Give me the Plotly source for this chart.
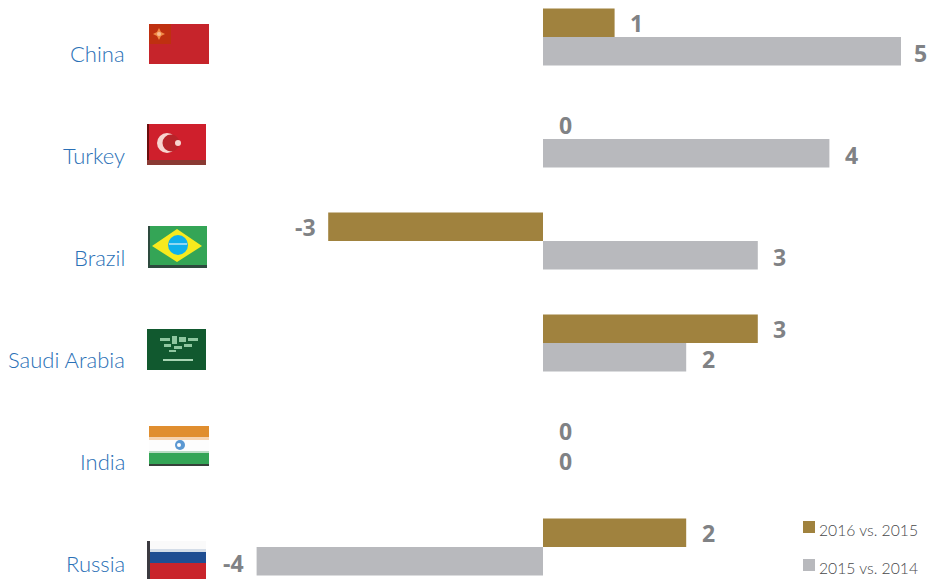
import plotly.graph_objects as go

# Percentage-point changes by country
countries = ["China", "Turkey", "Brazil", "Saudi Arabia", "India", "Russia"]
change_2016 = [1, 0, -3, 3, 0, 2]
change_2015 = [5, 4, 3, 2, 0, -4]
series_names = ["2016 vs. 2015", "2015 vs. 2014"]

GOLD = "#a0823e"
GREY = "#b8b9bd"
BLUE = "#2a70b6"
LABEL = "#808285"
LEGEND = "#47484a"
W, H = 928, 579
UNIT = 71.6
ZERO = 543
ROW = 102
FIRST = 37

fig = go.Figure()
for name, vals, col in zip(series_names, [change_2016, change_2015], [GOLD, GREY]):
    fig.add_bar(y=countries, x=vals, name=name, orientation="h",
                marker=dict(color=col, line=dict(width=0)), showlegend=False)


def px(x):
    return x / W


def py(y):
    return 1 - y / H


shapes, annotations = [], []


def rect(x0, y0, x1, y1, color):
    shapes.append(dict(type="rect", xref="paper", yref="paper", x0=px(x0), x1=px(x1),
                       y0=py(y0), y1=py(y1), fillcolor=color, line=dict(width=0), layer="above"))


def circle(cx, cy, r, color):
    rect_shape = dict(type="circle", xref="paper", yref="paper", x0=px(cx - r), x1=px(cx + r),
                      y0=py(cy - r), y1=py(cy + r), fillcolor=color, line=dict(width=0), layer="above")
    shapes.append(rect_shape)


def poly(points, color):
    d = "M" + "L".join(f"{px(x):.5f},{py(y):.5f}" for x, y in points) + "Z"
    shapes.append(dict(type="path", xref="paper", yref="paper", path=d,
                       fillcolor=color, line=dict(width=0), layer="above"))


# China
rect(149, 24, 209, 64, "#c6242b")
rect(149, 24, 171, 44, "#bf3010")
poly([(159, 28), (161, 32), (165, 34), (161, 36), (159, 40), (157, 36), (153, 34), (157, 32)], "#f08a45")
circle(159, 34, 2, "#f9bd95")

# Turkey
rect(147, 124, 206, 165, "#cf1f2c")
rect(147, 124, 149, 165, "#6b0d0d")
rect(147, 160, 206, 165, "#8a3a33")
circle(167, 143, 10, "#f8d4cf")
circle(171, 143, 8.5, "#b8242a")
circle(178, 143, 3, "#f8d4cf")

# Brazil
rect(148, 226, 207, 268, "#34a556")
rect(148, 226, 150, 268, "#2d4a3e")
rect(148, 265, 207, 268, "#2d4a3e")
poly([(152, 246), (177, 229), (202, 246), (177, 262)], "#f7ea1e")
circle(178, 245, 10, "#0fb0ea")
rect(169, 243, 187, 245, "#8fd8f2")

# Saudi Arabia
rect(147, 329, 206, 370, "#11592f")
for x0, y0, x1, y1 in [(160, 338, 170, 341), (172, 336, 177, 344), (179, 337, 186, 342),
                       (188, 338, 198, 341), (164, 344, 171, 347), (174, 346, 182, 349),
                       (184, 344, 192, 347), (169, 350, 176, 352)]:
    rect(x0, y0, x1, y1, "#8fc7a0")
rect(163, 359, 193, 361, "#a8d6b4")

# India
rect(149, 426, 209, 437, "#e08e2f")
rect(149, 437, 209, 440, "#f6d3b0")
rect(149, 440, 209, 451, "#fdfdfd")
rect(149, 451, 209, 453, "#b9dcc3")
rect(149, 453, 209, 464, "#34a556")
rect(149, 464, 209, 466, "#36403a")
circle(180, 445, 5, "#5b98d2")
circle(179, 445, 2, "#ffffff")

# Russia
rect(147, 541, 206, 549, "#fafafa")
rect(147, 549, 206, 552, "#d4dde8")
rect(147, 552, 206, 563, "#1f4e92")
rect(147, 563, 206, 579, "#c9242b")
rect(147, 541, 150, 579, "#3b3a40")

# Country names sit just below each row centre, right-aligned against the flags
for name in countries:
    annotations.append(dict(x=px(127), xref="paper", y=name, yref="y", text=name,
                            showarrow=False, xanchor="right", yanchor="middle", yshift=-16,
                            font=dict(family="Lato", size=22, color=BLUE, weight=300)))

# Value labels, offset beyond the end of each bar; the largest one is kept inside the frame
for vals, shift in [(change_2016, 14), (change_2015, -16)]:
    for name, v in zip(countries, vals):
        offset = -23 if v < 0 else (19 if v == max(change_2015) else 22)
        annotations.append(dict(x=v, xref="x", y=name, yref="y", text=str(v), showarrow=False,
                                xanchor="center", yanchor="middle", yshift=shift, xshift=offset,
                                font=dict(family="Open Sans", size=23, color=LABEL, weight="bold")))

# Key at the lower right
for name, col, top in zip(series_names, [GOLD, GREY], [521, 559]):
    rect(803, top, 815, top + 12, col)
    annotations.append(dict(x=px(817), xref="paper", y=py(top + 9), yref="paper", text=name,
                            showarrow=False, xanchor="left", yanchor="middle",
                            font=dict(family="Lato", size=15.7, color=LEGEND, weight=300)))

fig.update_layout(
    width=W, height=H, margin=dict(l=0, r=0, t=0, b=0),
    paper_bgcolor="white", plot_bgcolor="white",
    barmode="group", bargap=0.44, bargroupgap=0,
    shapes=shapes, annotations=annotations,
    xaxis=dict(range=[-ZERO / UNIT, (W - ZERO) / UNIT], visible=False, fixedrange=True),
    yaxis=dict(type="category", categoryorder="array", categoryarray=countries,
               range=[(H - FIRST) / ROW, -FIRST / ROW], visible=False, fixedrange=True),
)

fig.write_html("out.html", config=dict(displayModeBar=False))
